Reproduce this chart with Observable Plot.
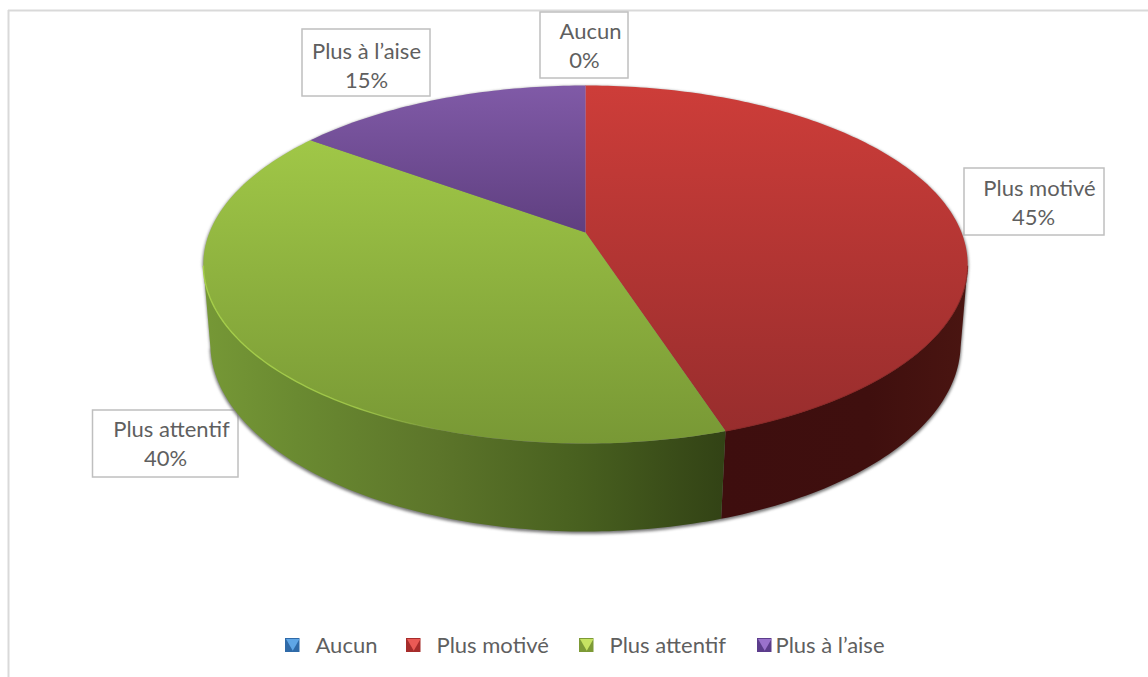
<!DOCTYPE html>
<html lang="fr">
<head>
<meta charset="utf-8">
<script src="https://cdn.jsdelivr.net/npm/d3@7"></script>
<script src="https://cdn.jsdelivr.net/npm/@observablehq/plot@0.6"></script>
<style>
html,body{margin:0;padding:0;background:#fff;}
svg{display:block;}
</style>
</head>
<body>
<div id="chart"></div>
<script>
// Data
const categories = ["Aucun", "Plus motivé", "Plus attentif", "Plus à l’aise"];
const values = [0, 45, 40, 15];

// Styles
const W = 1148, H = 677;
const FONT = "Lato, 'Open Sans', sans-serif";
const TEXT = "#5f5f5f";
const sideStops = {
  "Plus motivé": [[0, "#3e0e0e"], [0.6, "#3f0f0e"], [1, "#4a1511"]],
  "Plus attentif": [[0, "#769836"], [0.18, "#6a8a31"], [0.45, "#5c752a"], [0.72, "#48601f"], [1, "#324215"]]
};
const topStops = {
  "Aucun": ["#4f81bd", "#3a6591"],
  "Plus motivé": ["#cd3d39", "#982d2d"],
  "Plus attentif": ["#a0c747", "#789835"],
  "Plus à l’aise": ["#805aa7", "#5f3f80"]
};
const swatch = {
  "Aucun": ["#2f6aa8", "#5fa6e6"],
  "Plus motivé": ["#a62c2b", "#ea5a55"],
  "Plus attentif": ["#7d9a36", "#c6e262"],
  "Plus à l’aise": ["#5c3d8c", "#9a72cc"]
};

// Perspective camera of the two discs
const cx = 585;
const topPlane = {A: -131.8, B: 232, C: 0.1788, D: 376};
const botPlane = {A: -131.4, B: 312, C: 0.165, D: 370};
const frontFrom = 0.28, frontTo = 0.72; // part of the turn whose wall faces the viewer
function rim(plane, frac) {
  const t = frac * 2 * Math.PI, u = Math.cos(t), v = Math.sin(t), k = 1 + plane.C * u;
  return {x: cx + plane.D * v / k, y: (plane.A * u + plane.B) / k};
}
function arc(plane, f0, f1) {
  const n = Math.max(2, Math.ceil(Math.abs(f1 - f0) * 360)), out = [];
  for (let i = 0; i <= n; ++i) out.push(rim(plane, f0 + (f1 - f0) * i / n));
  return out;
}

// Slices from values
const total = d3.sum(values);
let acc = 0;
const slices = categories.map((name, i) => {
  const f0 = acc / total; acc += values[i];
  return {name, value: values[i], f0, f1: acc / total, id: "s" + i};
});

// Layout of labels and legend
const boxes = [
  {x1: 540, x2: 628, y1: 12, y2: 78, l1x: 590, l2x: 584, y: 31},
  {x1: 964, x2: 1104, y1: 168, y2: 235, l1x: 1039, l2x: 1033, y: 188},
  {x1: 92.5, x2: 238, y1: 410, y2: 477, l1x: 171, l2x: 165, y: 429},
  {x1: 302, x2: 430, y1: 29, y2: 96, l1x: 366, l2x: 366, y: 51}
];
const legendX = [285, 406, 579, 757];
const legendTextX = [315, 436, 609, 775];
const legendY = 645;

const labelRows = slices.flatMap((s, i) => [
  {x: boxes[i].l1x, y: boxes[i].y, t: s.name},
  {x: boxes[i].l2x, y: boxes[i].y + 29, t: s.value + "%"}
]);

const defs = () => {
  const ns = "http://www.w3.org/2000/svg";
  const d = document.createElementNS(ns, "defs");
  const grad = (id, x2, y2, stops) => {
    const g = document.createElementNS(ns, "linearGradient");
    g.setAttribute("id", id);
    g.setAttribute("x1", 0); g.setAttribute("y1", 0);
    g.setAttribute("x2", x2); g.setAttribute("y2", y2);
    for (const [o, c, a] of stops) {
      const st = document.createElementNS(ns, "stop");
      st.setAttribute("offset", o); st.setAttribute("stop-color", c);
      if (a !== undefined) st.setAttribute("stop-opacity", a);
      g.appendChild(st);
    }
    d.appendChild(g);
  };
  for (const s of slices) {
    grad("top-" + s.id, 0, 1, [[0, topStops[s.name][0]], [1, topStops[s.name][1]]]);
    if (sideStops[s.name]) grad("side-" + s.id, 1, 0, sideStops[s.name]);
  }
  grad("rim", 1, 0, [[0, "#a6cf4a", 1], [0.65, "#a6cf4a", 0.8], [1, "#a6cf4a", 0]]);
  return d;
};

// Outline of the whole body as seen by the viewer
const body = [...arc(topPlane, frontTo, 1 + frontFrom), ...arc(botPlane, frontFrom, frontTo)];

const marks = [
  defs,
  // chart frame
  Plot.ruleX([8], {y1: 10, y2: H, stroke: "#d9d9d9", strokeWidth: 2}),
  Plot.ruleY([10], {x1: 8, x2: W, stroke: "#d9d9d9", strokeWidth: 2}),
  // label boxes lie under the disc
  Plot.rect(boxes, {x1: "x1", x2: "x2", y1: "y1", y2: "y2", fill: "#fff", stroke: "#bfbfbf", strokeWidth: 1.5}),
  // soft shadow of the disc
  Plot.line(body, {x: "x", y: d => d.y + 1.5, fill: "#777", stroke: "#777", strokeWidth: 1.5, imageFilter: "blur(1.5px)"})
];

// Side walls: only what faces the viewer
for (const s of slices) {
  const a = Math.max(s.f0, frontFrom), b = Math.min(s.f1, frontTo);
  if (b <= a) continue;
  const poly = [...arc(topPlane, a, b), ...arc(botPlane, a, b).reverse()];
  marks.push(Plot.line(poly, {x: "x", y: "y", fill: `url(#side-${s.id})`, stroke: "none"}));
}

// Top surfaces
const apex = {x: cx, y: topPlane.B};
for (const s of slices) {
  const poly = [apex, ...arc(topPlane, s.f0, s.f1), apex];
  if (s.value === 0) {
    marks.push(Plot.line(poly, {x: "x", y: "y", stroke: "#d8a0a8", strokeWidth: 1}));
  } else {
    marks.push(Plot.line(poly, {x: "x", y: "y", fill: `url(#top-${s.id})`, stroke: "none"}));
  }
}
// Bright fading rim on the green slice, soft dark rim on the red one
const g = slices[2], r = slices[1];
marks.push(Plot.line(arc(topPlane, frontTo, g.f0 + 0.1), {x: "x", y: "y", stroke: "url(#rim)", strokeWidth: 1.4}));
marks.push(Plot.line(arc(topPlane, frontFrom, r.f1), {x: "x", y: "y", stroke: "#8a2826", strokeWidth: 1}));

// Labels
marks.push(Plot.text(labelRows, {x: "x", y: "y", text: "t", fill: TEXT, fontSize: 22, fontFamily: FONT}));

// Legend
const legendRows = slices.map((s, i) => ({...s, sx: legendX[i], tx: legendTextX[i]}));
marks.push(Plot.rect(legendRows, {
  x1: "sx", x2: d => d.sx + 14.5, y1: legendY - 7, y2: legendY + 7,
  fill: d => swatch[d.name][0]
}));
marks.push(Plot.dot(legendRows, {
  x: d => d.sx + 7.25, y: legendY - 2.5, r: 5, symbol: "triangle", rotate: 180,
  fill: d => swatch[d.name][1], stroke: "none"
}));
marks.push(Plot.text(legendRows, {
  x: "tx", y: legendY, text: "name", textAnchor: "start",
  fill: TEXT, fontSize: 22, fontFamily: FONT
}));

const chart = Plot.plot({
  width: W, height: H,
  margin: 0,
  x: {domain: [0, W], range: [0, W], axis: null},
  y: {domain: [0, H], range: [0, H], axis: null},
  color: {type: "identity"},
  style: {background: "#fff", overflow: "hidden"},
  marks
});
document.getElementById("chart").appendChild(chart);
</script>
</body>
</html>
